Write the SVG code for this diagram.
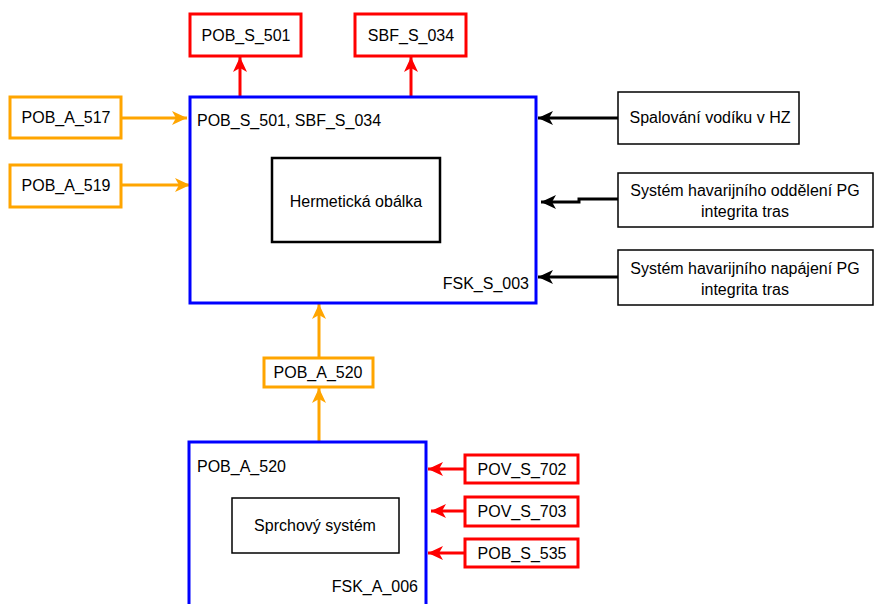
<svg xmlns="http://www.w3.org/2000/svg" width="875" height="604" viewBox="0 0 875 604">
<defs>
<style>
text{font-family:"Liberation Sans",Arial,sans-serif;font-size:16px;fill:#000}
.red{fill:#fff;stroke:#FF0000;stroke-width:3}
.org{fill:#fff;stroke:#FFA500;stroke-width:3}
.blue{fill:#fff;stroke:#0000FF;stroke-width:3}
.blk{fill:#fff;stroke:#000;stroke-width:1.5}
.blk2{fill:#fff;stroke:#000;stroke-width:2.5}
.c-red{fill:none;stroke:#FF0000;stroke-width:3}
.c-org{fill:none;stroke:#FFA500;stroke-width:3}
.c-blk{fill:none;stroke:#000;stroke-width:3}
.mid{text-anchor:middle}
.end{text-anchor:end}
</style>
<marker id="ar" markerUnits="userSpaceOnUse" markerWidth="16" markerHeight="16" viewBox="0 0 16 16" refX="15" refY="8" orient="auto"><path d="M0,1 L15,8 L0,15 L4,8 Z" fill="#FF0000"/></marker>
<marker id="ao" markerUnits="userSpaceOnUse" markerWidth="16" markerHeight="16" viewBox="0 0 16 16" refX="15" refY="8" orient="auto"><path d="M0,1 L15,8 L0,15 L4,8 Z" fill="#FFA500"/></marker>
<marker id="ak" markerUnits="userSpaceOnUse" markerWidth="16" markerHeight="16" viewBox="0 0 16 16" refX="15" refY="8" orient="auto"><path d="M0,1 L15,8 L0,15 L4,8 Z" fill="#000"/></marker>
</defs>
<rect width="875" height="604" fill="#fff"/>

<g id="connectors">
<line class="c-red" x1="240" y1="96" x2="240" y2="57" marker-end="url(#ar)"/>
<line class="c-red" x1="411" y1="96" x2="411" y2="57" marker-end="url(#ar)"/>
<line class="c-org" x1="122" y1="118" x2="187" y2="118" marker-end="url(#ao)"/>
<line class="c-org" x1="122" y1="185" x2="190" y2="185" marker-end="url(#ao)"/>
<line class="c-blk" x1="618" y1="118" x2="538" y2="118" marker-end="url(#ak)"/>
<path class="c-blk" d="M618,199 L579,199 L579,202 L541,202" marker-end="url(#ak)"/>
<line class="c-blk" x1="618" y1="277" x2="538" y2="277" marker-end="url(#ak)"/>
<line class="c-org" x1="319" y1="357" x2="319" y2="304" marker-end="url(#ao)"/>
<line class="c-org" x1="319" y1="441" x2="319" y2="388" marker-end="url(#ao)"/>
<line class="c-red" x1="465" y1="469" x2="428" y2="469" marker-end="url(#ar)"/>
<line class="c-red" x1="465" y1="511" x2="431" y2="511" marker-end="url(#ar)"/>
<line class="c-red" x1="465" y1="553" x2="428" y2="553" marker-end="url(#ar)"/>
</g>

<g id="main">
<rect class="blue" x="190" y="97" width="346" height="206"/>
<text x="197" y="126">POB_S_501, SBF_S_034</text>
<text class="end" x="529" y="289">FSK_S_003</text>
</g>
<g id="hermeticka">
<rect class="blk2" x="272" y="158" width="168" height="84"/>
<text class="mid" x="356" y="207">Hermetická obálka</text>
</g>
<g id="pob_s_501">
<rect class="red" x="190" y="14" width="111" height="42"/>
<text class="mid" x="246" y="41">POB_S_501</text>
</g>
<g id="sbf_s_034">
<rect class="red" x="355" y="14" width="111" height="42"/>
<text class="mid" x="411" y="41">SBF_S_034</text>
</g>
<g id="pob_a_517">
<rect class="org" x="10" y="97" width="111" height="41"/>
<text class="mid" x="66" y="123">POB_A_517</text>
</g>
<g id="pob_a_519">
<rect class="org" x="10" y="165" width="111" height="42"/>
<text class="mid" x="66" y="191">POB_A_519</text>
</g>
<g id="spalovani">
<rect class="blk" x="618" y="92" width="181" height="52"/>
<text class="mid" x="710" y="123">Spalování vodíku v HZ</text>
</g>
<g id="oddeleni">
<rect class="blk" x="618" y="173" width="255" height="54"/>
<text class="mid" x="745" y="196">Systém havarijního oddělení PG</text>
<text class="mid" x="745" y="217">integrita tras</text>
</g>
<g id="napajeni">
<rect class="blk" x="618" y="250" width="255" height="55"/>
<text class="mid" x="745" y="274">Systém havarijního napájení PG</text>
<text class="mid" x="745" y="295">integrita tras</text>
</g>
<g id="pob_a_520">
<rect class="org" x="264" y="358" width="109" height="29"/>
<text class="mid" x="318" y="378">POB_A_520</text>
</g>
<g id="fsk_a_006">
<rect class="blue" x="189" y="442" width="237" height="170"/>
<text x="197" y="472">POB_A_520</text>
<text class="end" x="418" y="592">FSK_A_006</text>
</g>
<g id="sprchovy">
<rect class="blk" x="232" y="498" width="167" height="55"/>
<text class="mid" x="315" y="531">Sprchový systém</text>
</g>
<g id="pov_s_702">
<rect class="red" x="465" y="455" width="113" height="28"/>
<text class="mid" x="522" y="475">POV_S_702</text>
</g>
<g id="pov_s_703">
<rect class="red" x="465" y="497" width="113" height="29"/>
<text class="mid" x="522" y="517">POV_S_703</text>
</g>
<g id="pob_s_535">
<rect class="red" x="465" y="539" width="113" height="28"/>
<text class="mid" x="522" y="559">POB_S_535</text>
</g>
</svg>
